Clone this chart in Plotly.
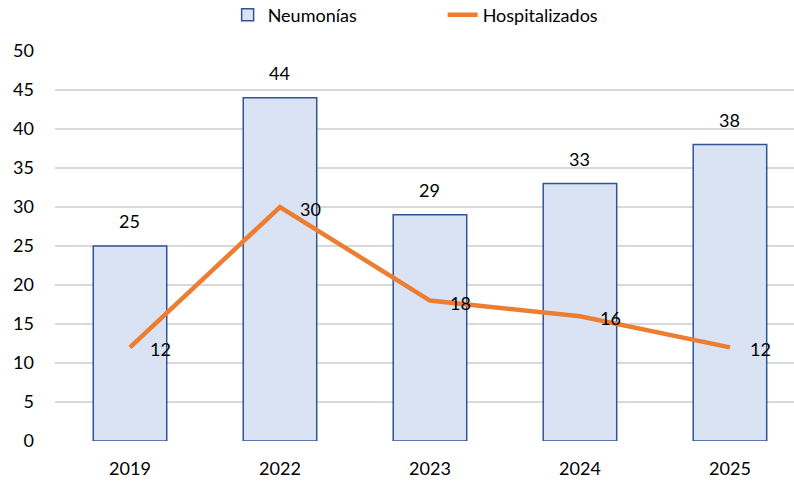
import plotly.graph_objects as go

years = ["2019", "2022", "2023", "2024", "2025"]
neumonias = [25, 44, 29, 33, 38]
hospitalizados = [12, 30, 18, 16, 12]
y_ticks = [0, 5, 10, 15, 20, 25, 30, 35, 40, 45, 50]

FONT = "Lato"
FS = 18
xpos = list(range(len(years)))

fig = go.Figure()
fig.add_trace(go.Bar(
    x=xpos, y=neumonias, name="Neumonías", width=0.49,
    marker=dict(color="#DAE3F3", line=dict(color="#2F5597", width=1.5)),
))
fig.add_trace(go.Scatter(
    x=xpos, y=hospitalizados, name="Hospitalizados", mode="lines",
    line=dict(color="#ED7D31", width=4.5),
))

for xi, v in zip(xpos, neumonias):
    fig.add_annotation(x=xi, y=v, text=str(v), showarrow=False,
                       yshift=25, font=dict(size=FS, color="#000", family=FONT))
for xi, v in zip(xpos, hospitalizados):
    fig.add_annotation(x=xi, y=v, text=str(v), showarrow=False,
                       xshift=31, yshift=-2, font=dict(size=FS, color="#000", family=FONT))

fig.update_layout(
    width=794, height=482,
    margin=dict(l=55, r=0, t=51, b=41, autoexpand=False),
    paper_bgcolor="white", plot_bgcolor="white",
    font=dict(family=FONT, size=FS, color="#000"),
    legend=dict(orientation="h", xref="container", x=0.2867, xanchor="left",
                yref="paper", y=1 + 36 / 390, yanchor="middle",
                font=dict(size=FS, family=FONT),
                entrywidth=170, entrywidthmode="pixels"),
    xaxis=dict(tickmode="array", tickvals=xpos, ticktext=years, automargin=False,
               range=[-0.5, 4.427], showgrid=False, zeroline=False,
               showline=False, ticks="", tickfont=dict(size=FS, color="#000"),
               ticklabelstandoff=15),
    yaxis=dict(range=[0, 50], tickvals=y_ticks, showgrid=True, automargin=False,
               gridcolor="#D9D9D9", gridwidth=1.5, zeroline=False,
               ticks="", tickfont=dict(size=FS, color="#000"), ticklabelstandoff=20),
)

fig.write_html("out.html", config={"displayModeBar": False},
               post_script="document.body.style.margin='0';")
